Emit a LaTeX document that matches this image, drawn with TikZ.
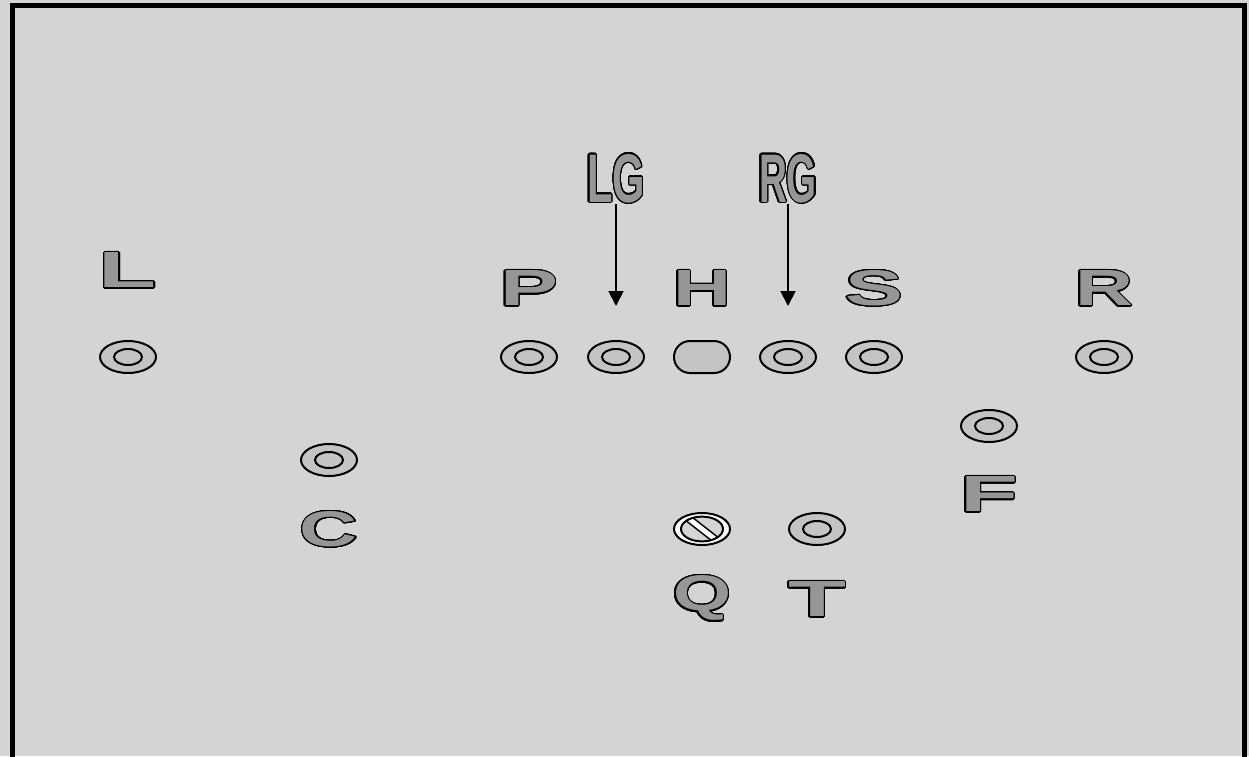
\documentclass[tikz,border=0pt]{standalone}
\usepackage{fontspec}
\setmainfont{Liberation Sans}
\usepackage{contour}
\contourlength{0.6pt}
\contournumber{24}
\usetikzlibrary{shapes.geometric,arrows.meta}
\definecolor{fieldgray}{RGB}{212,212,214}
\definecolor{ringgray}{RGB}{196,196,196}
\definecolor{lettergray}{RGB}{150,150,150}
\newcommand{\wideletter}[1]{{\color{lettergray}\contour{black}{\resizebox{29pt}{17.5pt}{\bfseries #1}}}}
\newcommand{\gapletters}[1]{{\color{lettergray}\contour{black}{\resizebox{29pt}{24pt}{\bfseries #1}}}}
\begin{document}
\begin{tikzpicture}[x=0.5pt,y=-0.5pt,
    player/.style={ellipse, draw, line width=1pt, fill=ringgray, inner sep=0pt,
      minimum width=28pt, minimum height=16pt,
      path picture={\draw[line width=1pt, fill=ringgray] (path picture bounding box.center) ellipse [x radius=7pt, y radius=4pt];}},
    snapper/.style={rectangle, rounded corners=8pt, draw, line width=1pt, fill=ringgray,
      minimum width=28pt, minimum height=16pt, inner sep=0pt},
    passer/.style={ellipse, draw, line width=1pt, fill=white, inner sep=0pt,
      minimum width=28pt, minimum height=16pt,
      path picture={
        \fill[fieldgray] (path picture bounding box.center) ellipse [x radius=10.5pt, y radius=6.2pt];
        \begin{scope}
          \clip (path picture bounding box.center) ellipse [x radius=10.5pt, y radius=6.2pt];
          \draw[line width=4pt] (path picture bounding box.center) ++(142:14pt) -- ++(-38:28pt);
          \draw[line width=2.4pt, white] (path picture bounding box.center) ++(142:14pt) -- ++(-38:28pt);
        \end{scope}
        \draw[line width=1pt] (path picture bounding box.center) ellipse [x radius=10.5pt, y radius=6.2pt];}},
    tag/.style={inner sep=0pt},
    arw/.style={line width=0.9pt, -{Triangle[width=7.5pt,length=7.5pt]}}]
  \fill[fieldgray] (0,0) rectangle (1249,756);
  \useasboundingbox (0,0) rectangle (1249,756);
  \draw[line width=2.5pt] (12.5,5.5) rectangle (1244.5,770);

  % line
  \node[player] (lt) at (128,357) {};
  \node[player] (pl) at (529,357) {};
  \node[player] (lgd) at (616,357) {};
  \node[snapper] (hk) at (702,357) {};
  \node[player] (rgd) at (788,357) {};
  \node[player] (sl) at (874,357) {};
  \node[player] (rt) at (1104,357) {};
  \node[player] (cb) at (329,460) {};
  \node[player] (fb) at (989,426) {};
  \node[passer] (qb) at (702,529) {};
  \node[player] (tb) at (817,529) {};

  % letters
  \node[tag] (l) at (128,271) {\wideletter{L}};
  \node[tag] (p) at (529,289) {\wideletter{P}};
  \node[tag] (h) at (702,289) {\wideletter{H}};
  \node[tag] (s) at (874,289) {\wideletter{S}};
  \node[tag] (r) at (1104,289) {\wideletter{R}};
  \node[tag] (c) at (329,530) {\wideletter{C}};
  \node[tag] (f) at (989,495) {\wideletter{F}};
  \node[tag] (q) at (702,599) {\wideletter{Q}};
  \node[tag] (t) at (817,600) {\wideletter{T}};
  \node[tag] (lg) at (616,179) {\gapletters{LG}};
  \node[tag] (rg) at (788,179) {\gapletters{RG}};

  \coordinate (lgtip) at (616,306);
  \coordinate (rgtip) at (788,306);
  \draw[arw] (lg.south) -- (lgtip);
  \draw[arw] (rg.south) -- (rgtip);
\end{tikzpicture}
\end{document}
